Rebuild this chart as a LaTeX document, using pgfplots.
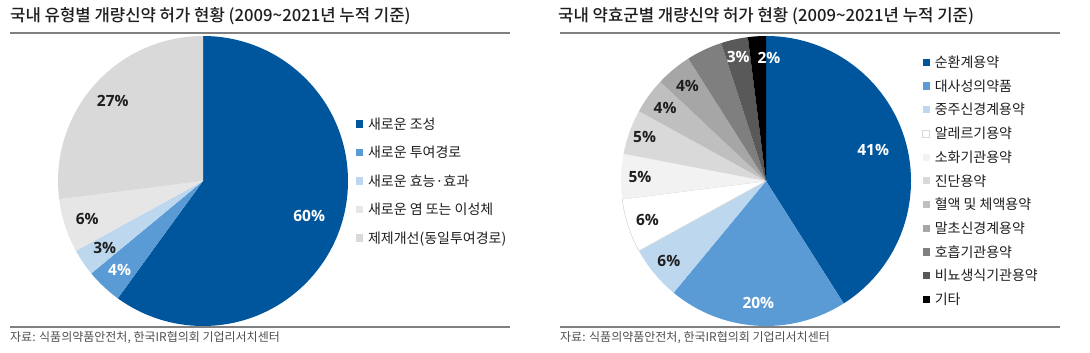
\documentclass[border=0pt]{standalone}
\usepackage{fontspec}
\setmainfont{Noto Sans CJK KR}
\newfontfamily\titlefont{Noto Sans CJK KR Medium}
\newfontfamily\pctfamily{Open Sans}
\usepackage{pgfplots}
\pgfplotsset{compat=1.18}

\definecolor{dblue}{RGB}{0,86,156}
\definecolor{mblue}{RGB}{91,155,213}
\definecolor{lblue}{RGB}{189,215,238}
\definecolor{g1}{RGB}{231,230,230}
\definecolor{g2}{RGB}{217,217,217}
\definecolor{r4}{RGB}{255,255,255}
\definecolor{r5}{RGB}{242,242,242}
\definecolor{r6}{RGB}{217,217,217}
\definecolor{r7}{RGB}{191,191,191}
\definecolor{r8}{RGB}{166,166,166}
\definecolor{r9}{RGB}{127,127,127}
\definecolor{r10}{RGB}{89,89,89}
\definecolor{r11}{RGB}{0,0,0}
\definecolor{rulecol}{RGB}{128,128,128}
\definecolor{txtcol}{RGB}{30,30,30}
\definecolor{srccol}{RGB}{80,80,80}

\tikzset{
  sA/.style={fill=dblue,draw=none}, sB/.style={fill=mblue,draw=none}, sC/.style={fill=lblue,draw=none},
  sD/.style={fill=g1,draw=none}, sE/.style={fill=g2,draw=none},
  t1/.style={fill=dblue,draw=none}, t2/.style={fill=mblue,draw=none}, t3/.style={fill=lblue,draw=none},
  t4/.style={fill=r4,draw=r6,line width=0.6pt}, t5/.style={fill=r5,draw=none}, t6/.style={fill=r6,draw=none},
  t7/.style={fill=r7,draw=none}, t8/.style={fill=r8,draw=none}, t9/.style={fill=r9,draw=none},
  t10/.style={fill=r10,draw=none}, t11/.style={fill=r11,draw=none},
}

\newcommand\pctfont{\pctfamily\bfseries\fontsize{15.5}{18}\selectfont}

% #1: list value/style/label/labelcolor/labelradius/angleshift
\newcommand\pieslices[1]{%
  \gdef\cum{0}%
  \foreach \v/\s/\t/\tc/\lr/\da in {#1}{%
    \pgfmathsetmacro\a{90-3.6*\cum}%
    \pgfmathsetmacro\b{90-3.6*(\cum+\v)}%
    \edef\temp{\noexpand\path[\s] (axis cs:0,0) -- (axis cs:{cos(\a)},{sin(\a)}) arc[start angle=\a,end angle=\b,radius=145pt] -- cycle;}%
    \temp
    \pgfmathsetmacro\newcum{\cum+\v}%
    \xdef\cum{\newcum}%
  }%
  \gdef\cum{0}%
  \foreach \v/\s/\t/\tc/\lr/\da in {#1}{%
    \pgfmathsetmacro\m{90-3.6*(\cum+\v/2)+\da}%
    \edef\temp{\noexpand\node[text=\tc,font=\noexpand\pctfont,inner sep=0pt] at (axis cs:{\lr*cos(\m)},{\lr*sin(\m)}) {\t};}%
    \temp
    \pgfmathsetmacro\newcum{\cum+\v}%
    \xdef\cum{\newcum}%
  }%
}

\pgfplotsset{
  pieaxis/.style={
    width=290pt, height=290pt, scale only axis,
    xmin=-1, xmax=1, ymin=-1, ymax=1,
    hide axis, clip=false, anchor=center,
    legend cell align=left,
    legend image code/.code={\path[##1] (0pt,-3.6pt) rectangle (7.2pt,3.6pt); \path (12pt,0pt);},
  },
}

\begin{document}
\begin{tikzpicture}[x=1pt,y=1pt]
\useasboundingbox (0,0) rectangle (1090,353);

% titles and rules
\node[anchor=west,inner sep=0pt,text=txtcol,font=\titlefont\fontsize{16.7}{20}\selectfont] at (10,337) {국내 유형별 개량신약 허가 현황 (2009\textasciitilde 2021년 누적 기준)};
\node[anchor=west,inner sep=0pt,text=txtcol,font=\titlefont\fontsize{16.7}{20}\selectfont] at (558,337) {국내 약효군별 개량신약 허가 현황 (2009\textasciitilde 2021년 누적 기준)};
\draw[rulecol,line width=1.6pt] (10,320) -- (510,320);
\draw[rulecol,line width=1.6pt] (560,320) -- (1060,320);
\draw[rulecol,line width=1.6pt] (10,26) -- (510,26);
\draw[rulecol,line width=1.6pt] (560,26) -- (1060,26);
\node[anchor=west,inner sep=0pt,text=srccol,font=\fontsize{12}{14}\selectfont] at (10,15.5) {자료: 식품의약품안전처, 한국IR협의회 기업리서치센터};
\node[anchor=west,inner sep=0pt,text=srccol,font=\fontsize{12}{14}\selectfont] at (560,15.5) {자료: 식품의약품안전처, 한국IR협의회 기업리서치센터};

% left pie
\begin{axis}[pieaxis, at={(203pt,172pt)},
  legend style={draw=none, fill=none, at={(1.027,0.715)}, anchor=north west, inner sep=0pt,
    font=\fontsize{14}{16}\selectfont, row sep=18pt,
    nodes={inner sep=0pt, text height=10.5pt, text depth=0pt, text=txtcol}}]
\pieslices{60/sA/60\%/white/0.77/0, 4/sB/4\%/white/0.84/0, 3/sC/3\%/txtcol/0.82/0, 6/sD/6\%/txtcol/0.84/0, 27/sE/27\%/txtcol/0.83/0}
\addlegendimage{sA}\addlegendentry{새로운 조성}
\addlegendimage{sB}\addlegendentry{새로운 투여경로}
\addlegendimage{sC}\addlegendentry{새로운 효능·효과}
\addlegendimage{sD}\addlegendentry{새로운 염 또는 이성체}
\addlegendimage{sE}\addlegendentry{제제개선(동일투여경로)}
\end{axis}

% right pie
\begin{axis}[pieaxis, at={(766pt,172pt)},
  legend style={draw=none, fill=none, at={(1.038,0.928)}, anchor=north west, inner sep=0pt,
    font=\fontsize{14}{16}\selectfont, row sep=13.2pt,
    nodes={inner sep=0pt, text height=10.5pt, text depth=0pt, text=txtcol}}]
\pieslices{41/t1/41\%/white/0.77/0, 20/t2/20\%/white/0.84/0, 6/t3/6\%/txtcol/0.87/0, 6/t4/6\%/txtcol/0.86/0, 5/t5/5\%/txtcol/0.87/0, 5/t6/5\%/txtcol/0.89/0, 4/t7/4\%/txtcol/0.86/0, 4/t8/4\%/txtcol/0.85/0, 4/t9//txtcol/0.87/0, 3/t10/3\%/white/0.88/0, 2/t11/2\%/white/0.85/-5}
\addlegendimage{t1}\addlegendentry{순환계용약}
\addlegendimage{t2}\addlegendentry{대사성의약품}
\addlegendimage{t3}\addlegendentry{중주신경계용약}
\addlegendimage{t4}\addlegendentry{알레르기용약}
\addlegendimage{t5}\addlegendentry{소화기관용약}
\addlegendimage{t6}\addlegendentry{진단용약}
\addlegendimage{t7}\addlegendentry{혈액 및 체액용약}
\addlegendimage{t8}\addlegendentry{말초신경계용약}
\addlegendimage{t9}\addlegendentry{호흡기관용약}
\addlegendimage{t10}\addlegendentry{비뇨생식기관용약}
\addlegendimage{t11}\addlegendentry{기타}
\end{axis}
\end{tikzpicture}
\end{document}
